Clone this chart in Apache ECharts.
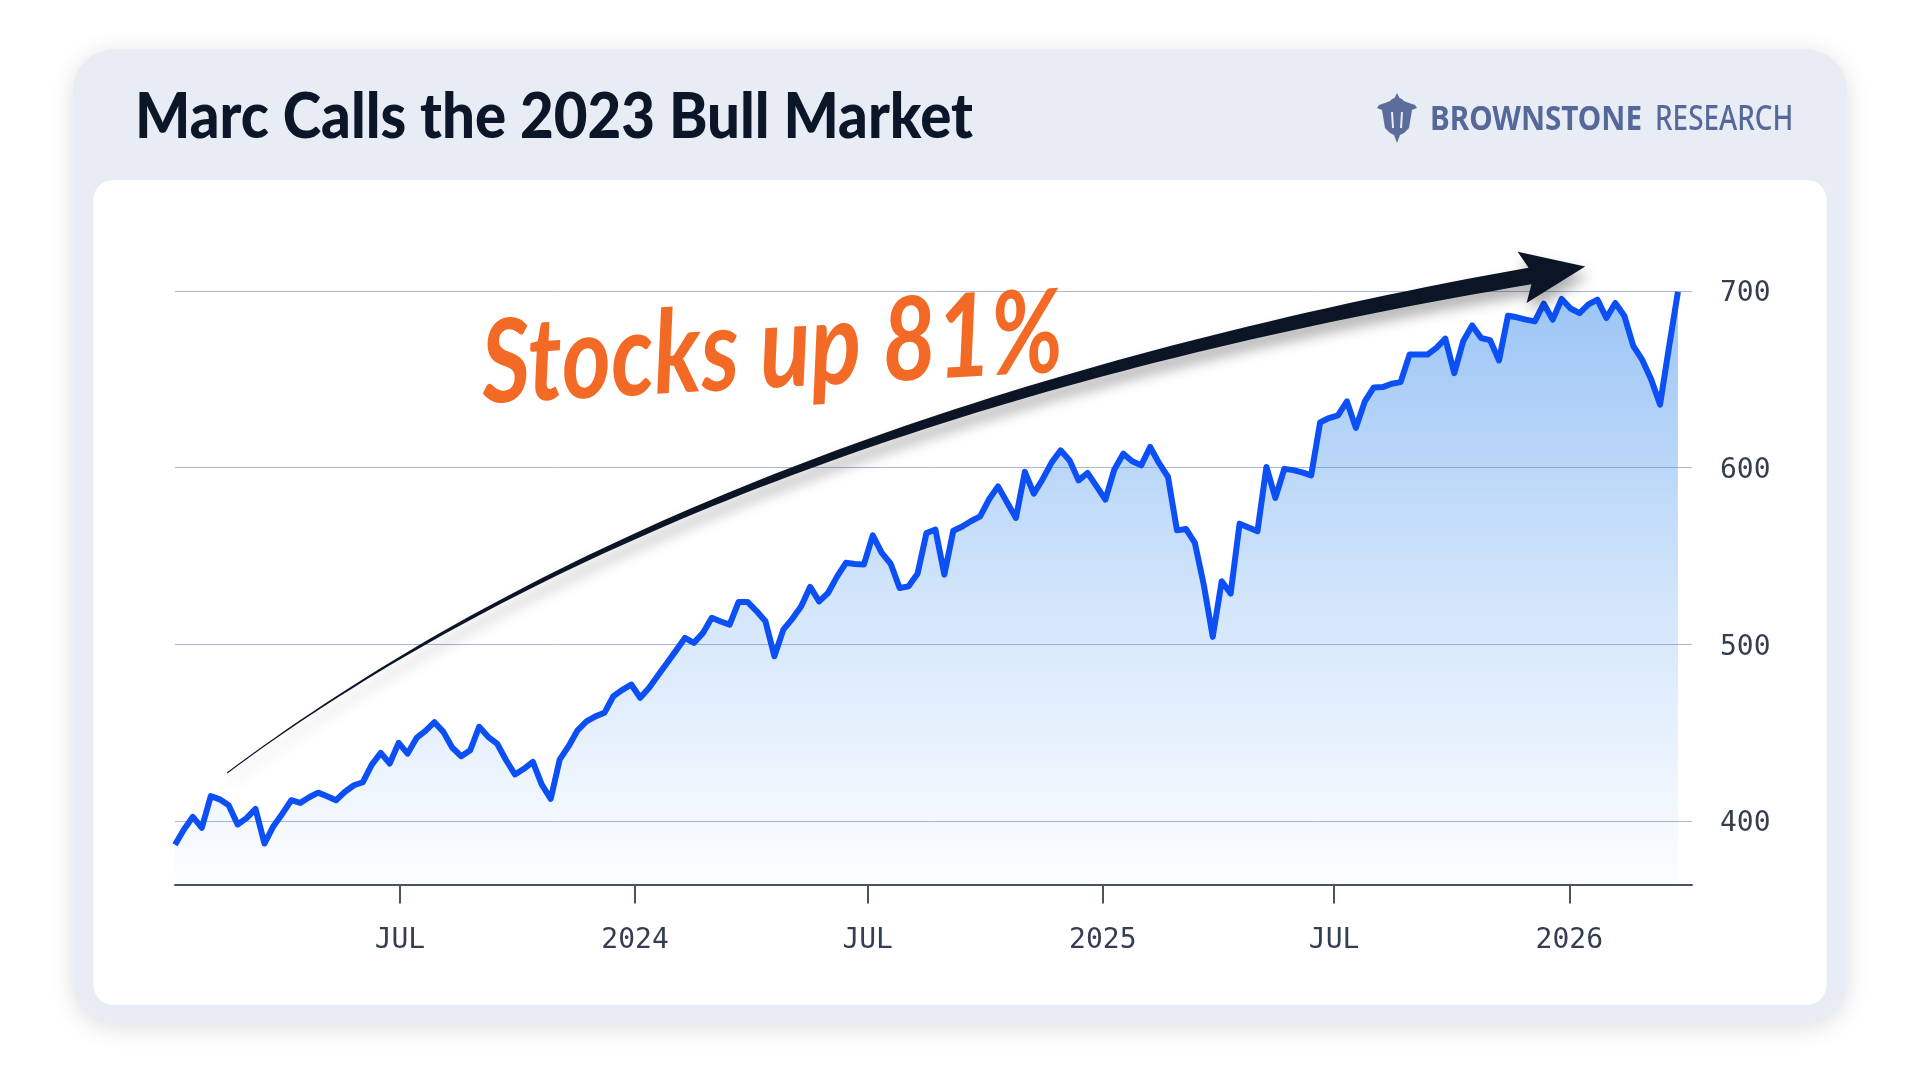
<!DOCTYPE html>
<html>
<head>
<meta charset="utf-8">
<title>Marc Calls the 2023 Bull Market</title>
<script src="https://cdn.jsdelivr.net/npm/echarts@6/dist/echarts.min.js"></script>
<style>
  html, body { margin: 0; padding: 0; background: #ffffff; }
  #chart { width: 1920px; height: 1080px; }
</style>
</head>
<body>
<div id="chart"></div>
<script>
// ---- text ----
const titleText = 'Marc Calls the 2023 Bull Market';
const brandBold = 'BROWNSTONE';
const brandLight = 'RESEARCH';
const calloutText = 'Stocks up 81%';

// ---- weekly closes, first week ending 2023-01-06 ----
const firstWeek = '2023-01-06';
const weeklyClose = [
  386.5, 395.2, 402.3, 396.1, 414.0, 412.2, 408.9, 398.0, 401.6, 406.8, 387.2, 397.0, 404.1,
  411.7, 410.2, 413.4, 416.0, 414.0, 411.7, 416.5, 420.2, 421.9, 431.9, 438.5, 432.5, 444.2,
  438.1, 447.0, 451.0, 455.9, 450.4, 441.4, 436.6, 440.0, 453.3, 447.6, 443.8, 434.5, 426.3,
  429.5, 433.4, 420.5, 412.5, 434.7, 442.3, 451.3, 456.3, 459.2, 461.2, 470.6, 474.2, 477.2,
  469.7, 475.4, 482.4, 489.4, 496.4, 503.6, 500.8, 506.3, 515.0, 512.9, 511.1, 524.0, 524.0,
  518.8, 513.0, 493.2, 508.3, 514.4, 521.5, 532.5, 524.3, 529.0, 538.3, 546.1, 545.5, 545.1,
  561.7, 551.7, 545.6, 531.9, 532.8, 539.9, 563.0, 564.9, 539.4, 564.3, 566.7, 569.8, 572.4,
  582.1, 589.4, 580.4, 571.5, 597.6, 585.3, 593.6, 603.0, 609.8, 604.1, 592.8, 597.0, 589.5,
  581.9, 599.0, 607.9, 603.6, 601.3, 611.7, 602.5, 594.7, 564.5, 565.3, 557.4, 533.6, 504.2,
  535.7, 528.7, 568.3, 566.1, 564.0, 600.4, 582.9, 599.3, 598.6, 597.3, 595.6, 625.6, 628.1,
  629.6, 637.5, 622.5, 637.5, 645.4, 645.6, 647.5, 648.4, 664.0, 664.0, 664.0, 667.8, 673.0,
  653.5, 671.7, 680.5, 673.4, 672.2, 660.7, 686.0, 685.1, 683.8, 682.8, 692.8, 683.8, 695.5,
  690.1, 687.5, 692.4, 695.1, 684.7, 693.2, 686.0, 669.0, 661.1, 650.0, 635.7, 668.2, 699.6
];

// ---- axes ----
const axisStart = '2023-01-06';
const axisEnd = '2026-04-07';
const tickDates = ['2023-07-01', '2024-01-01', '2024-07-01', '2025-01-01', '2025-07-01', '2026-01-01'];
const tickLabels = ['JUL', '2024', 'JUL', '2025', 'JUL', '2026'];
const priceTicks = [400, 500, 600, 700];
const priceMin = 364;
const priceMax = 700;

const DAY = 86400000;
function utc(s) {
  const p = s.split('-').map(Number);
  return Date.UTC(p[0], p[1] - 1, p[2]);
}
const startTime = utc(firstWeek);
const seriesData = weeklyClose.map((v, i) => [startTime + i * 7 * DAY, v]);
const tickTimes = tickDates.map(utc);

// text width helper so decorative text fits its slot
const measureCtx = document.createElement('canvas').getContext('2d');
function fitScale(text, font, target) {
  measureCtx.font = font;
  return target / measureCtx.measureText(text).width;
}

// ---- curved, tapering arrow ----
const arrowFrom = [227, 773], arrowBend = [700, 420], arrowTo = [1530, 276];
function bez(t) {
  const a = (1 - t) * (1 - t), b = 2 * t * (1 - t), c = t * t;
  return [a * arrowFrom[0] + b * arrowBend[0] + c * arrowTo[0],
          a * arrowFrom[1] + b * arrowBend[1] + c * arrowTo[1]];
}
function bezDir(t) {
  const dx = 2 * (1 - t) * (arrowBend[0] - arrowFrom[0]) + 2 * t * (arrowTo[0] - arrowBend[0]);
  const dy = 2 * (1 - t) * (arrowBend[1] - arrowFrom[1]) + 2 * t * (arrowTo[1] - arrowBend[1]);
  const l = Math.hypot(dx, dy);
  return [dx / l, dy / l];
}
const upperEdge = [], lowerEdge = [];
for (let k = 0; k <= 80; k++) {
  const t = k / 80;
  const p = bez(t), d = bezDir(t), n = [-d[1], d[0]];
  const half = (1 + 16 * Math.pow(t, 1.3)) / 2;
  upperEdge.push([p[0] - n[0] * half, p[1] - n[1] * half]);
  lowerEdge.push([p[0] + n[0] * half, p[1] + n[1] * half]);
}
const dEnd = bezDir(1), nEnd = [-dEnd[1], dEnd[0]];
const headTip = [arrowTo[0] + dEnd[0] * 56, arrowTo[1] + dEnd[1] * 56];
const headBase = [arrowTo[0] - dEnd[0] * 8, arrowTo[1] - dEnd[1] * 8];
const headL = [headBase[0] - nEnd[0] * 26, headBase[1] - nEnd[1] * 26];
const headR = [headBase[0] + nEnd[0] * 26, headBase[1] + nEnd[1] * 26];
const arrowPoints = upperEdge.concat([headL, headTip, headR], lowerEdge.slice().reverse());

// ---- lantern mark next to the wordmark ----
const lanternAt = [1377, 93];
const lanternShape = [[20,0],[22.5,5],[25,6],[27,8],[32,10],[38,12],[40,15],[35,17],[32,35],[27,40],
  [23,42],[20,50],[17,42],[13,40],[8,35],[5,17],[0,15],[2,12],[8,10],[13,8],[15,6],[17.5,5]]
  .map(p => [p[0] + lanternAt[0], p[1] + lanternAt[1]]);

const titleFont = '900 62px Lato';
const brandBoldFont = 'bold 34px "Noto Sans"';
const brandLightFont = '34px "Noto Sans"';
const calloutFont = 'italic bold 116px Lato';

const chart = echarts.init(document.getElementById('chart'), null, { renderer: 'canvas' });

chart.setOption({
  backgroundColor: '#ffffff',
  animation: false,
  grid: { left: 175, right: 228, top: 291, bottom: 195.5 },
  xAxis: {
    type: 'value',
    min: utc(axisStart),
    max: utc(axisEnd),
    axisLine: { show: true, onZero: false, lineStyle: { color: '#4a5366', width: 2 } },
    axisTick: { show: true, length: 19, lineStyle: { color: '#4a5366', width: 2 }, customValues: tickTimes },
    axisLabel: {
      customValues: tickTimes,
      margin: 42,
      fontFamily: '"DejaVu Sans Mono", monospace',
      fontSize: 28,
      color: '#353e50',
      formatter: function (val) {
        const i = tickTimes.findIndex(t => Math.abs(t - val) < DAY);
        return i >= 0 ? tickLabels[i] : '';
      }
    },
    splitLine: { show: false }
  },
  yAxis: {
    type: 'value',
    position: 'right',
    min: priceMin,
    max: priceMax,
    axisLine: { show: false },
    axisTick: { show: false, customValues: priceTicks },
    axisLabel: {
      customValues: priceTicks,
      margin: 28,
      lineHeight: 36,
      verticalAlign: 'top',
      padding: [-15, 0, 0, 0],
      fontFamily: '"DejaVu Sans Mono", monospace',
      fontSize: 28,
      color: '#353e50'
    },
    splitLine: { show: true, lineStyle: { color: '#a9b8d8', width: 1 } }
  },
  series: [{
    type: 'line',
    data: seriesData,
    symbol: 'none',
    smooth: false,
    lineStyle: { color: '#0c4ff5', width: 6, join: 'round', cap: 'butt' },
    areaStyle: {
      color: new echarts.graphic.LinearGradient(0, 0, 0, 1, [
        { offset: 0, color: 'rgba(58,140,235,0.72)' },
        { offset: 0.55, color: 'rgba(58,140,235,0.30)' },
        { offset: 1, color: 'rgba(58,140,235,0.02)' }
      ])
    },
    z: 3
  }],
  graphic: {
    elements: [
      {
        type: 'rect', z: -20, silent: true,
        shape: { x: 73, y: 49, width: 1774, height: 975, r: 42 },
        style: { fill: '#e8edf5', shadowBlur: 24, shadowColor: 'rgba(0,0,0,0.13)', shadowOffsetY: 4 }
      },
      {
        type: 'rect', z: -19, silent: true,
        shape: { x: 93.5, y: 180, width: 1733, height: 825, r: 20 },
        style: { fill: '#ffffff' }
      },
      {
        type: 'text', z: 50, silent: true, x: 135, y: 118,
        scaleX: fitScale(titleText, titleFont, 838),
        style: { text: titleText, fontFamily: 'Lato', fontWeight: 900, fontSize: 62,
                 fill: '#0b1628', align: 'left', verticalAlign: 'middle' }
      },
      {
        type: 'polygon', z: 50, silent: true,
        shape: { points: lanternShape },
        style: { fill: '#5b6d9b' }
      },
      {
        type: 'polyline', z: 51, silent: true,
        shape: { points: [[lanternAt[0] + 15, lanternAt[1] + 19], [lanternAt[0] + 16, lanternAt[1] + 35]] },
        style: { stroke: '#e8edf5', lineWidth: 2, fill: null }
      },
      {
        type: 'polyline', z: 51, silent: true,
        shape: { points: [[lanternAt[0] + 25, lanternAt[1] + 19], [lanternAt[0] + 24, lanternAt[1] + 35]] },
        style: { stroke: '#e8edf5', lineWidth: 2, fill: null }
      },
      {
        type: 'text', z: 50, silent: true, x: 1430, y: 120,
        scaleX: fitScale(brandBold, brandBoldFont, 212),
        style: { text: brandBold, fontFamily: 'Noto Sans', fontWeight: 'bold', fontSize: 34,
                 fill: '#56689a', align: 'left', verticalAlign: 'middle' }
      },
      {
        type: 'text', z: 50, silent: true, x: 1655, y: 120,
        scaleX: fitScale(brandLight, brandLightFont, 137),
        style: { text: brandLight, fontFamily: 'Noto Sans', fontWeight: 500, fontSize: 34,
                 fill: '#56689a', align: 'left', verticalAlign: 'middle' }
      },
      {
        type: 'polygon', z: 60, silent: true,
        shape: { points: arrowPoints },
        style: { fill: '#0b1526', shadowBlur: 14, shadowColor: 'rgba(0,0,0,0.33)',
                 shadowOffsetX: 3, shadowOffsetY: 9 }
      },
      {
        type: 'text', z: 70, silent: true, x: 772, y: 350,
        rotation: 0.055,
        scaleX: fitScale(calloutText, calloutFont, 582),
        style: { text: calloutText, fontFamily: 'Lato', fontStyle: 'italic', fontWeight: 'bold',
                 fontSize: 116, fill: '#f26a26', align: 'center', verticalAlign: 'middle' }
      }
    ]
  }
});
</script>
</body>
</html>
